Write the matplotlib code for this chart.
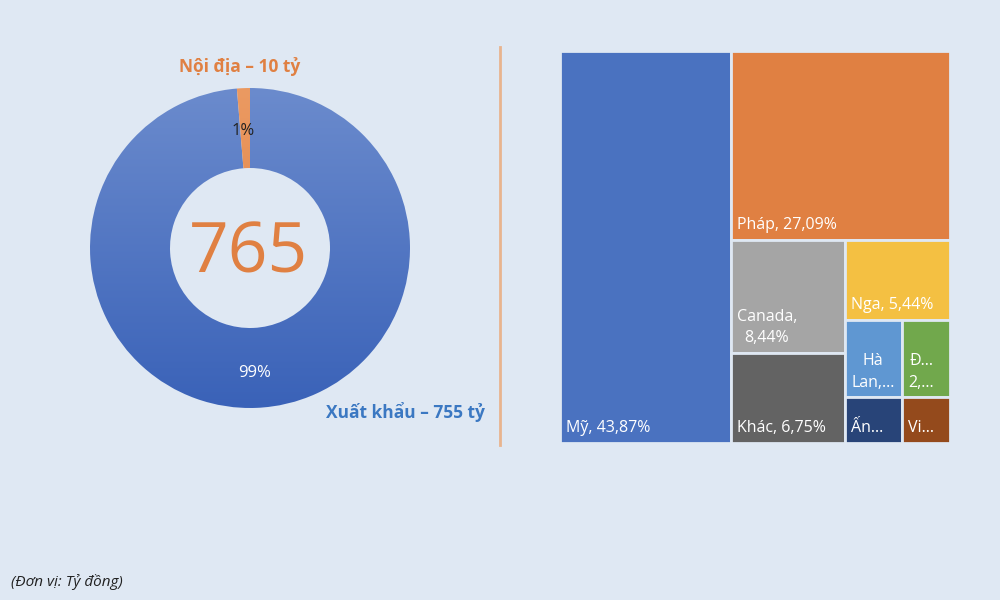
import numpy as np
import matplotlib
matplotlib.use("Agg")
import matplotlib.pyplot as plt
from matplotlib.patches import Wedge, Rectangle

plt.rcParams['font.family'] = ['Open Sans', 'DejaVu Sans']

# donut data (ty dong)
donut_labels = ['Xuất khẩu – 755 tỷ', 'Nội địa – 10 tỷ']
donut_values = [755, 10]
donut_pct = ['99%', '1%']
total_label = '765'

# treemap data (% of export value)
tm_names = ['Mỹ', 'Pháp', 'Canada', 'Khác', 'Nga', 'Hà Lan', 'Đức', 'Ấn Độ', 'Việt Nam']
tm_values = [43.87, 27.09, 8.44, 6.75, 5.44, 2.90, 2.40, 1.70, 1.41]
tm_text = ['Mỹ, 43,87%', 'Pháp, 27,09%', 'Canada,\n8,44%', 'Khác, 6,75%',
           'Nga, 5,44%', 'Hà\nLan,...', 'Đ...\n2,...', 'Ấn...', 'Vi...']
tm_colors = ['#4a72c0', '#e08042', '#a5a5a5', '#636363', '#f4c042',
             '#5f97d2', '#71a84c', '#284478', '#944a1c']
tm_rows = [1, 1, 2, 1, 2, 2]

bg = '#dfe8f3'
orange = '#e08042'

fig = plt.figure(figsize=(10, 6), dpi=100)
fig.patch.set_facecolor(bg)

# ---------------- donut ----------------
ax = fig.add_axes([0.05, (600 - 448) / 600, 0.4, 400 / 600])
ax.set_xlim(-1.25, 1.25)
ax.set_ylim(-1.25, 1.25)
ax.set_aspect('equal')
ax.axis('off')

fracs = np.array(donut_values) / sum(donut_values)
start = 90.0
inner = 0.5
grad = np.linspace(0, 1, 256).reshape(-1, 1)
blue_cmap = matplotlib.colors.LinearSegmentedColormap.from_list('b', ['#3a62b8', '#6b8bcd'])
orng_cmap = matplotlib.colors.LinearSegmentedColormap.from_list('o', ['#e0793a', '#eb9a62'])
cmaps = [blue_cmap, orng_cmap]
mids = []
for f, cm in zip(fracs, cmaps):
    end = start - f * 360
    w = Wedge((0, 0), 1, end, start, width=1 - inner, facecolor='none', edgecolor='none')
    ax.add_patch(w)
    im = ax.imshow(grad, cmap=cm, extent=[-1, 1, -1, 1], origin='lower', aspect='auto')
    im.set_clip_path(w)
    mids.append(np.deg2rad((start + end) / 2))
    start = end

r_lab = 0.75
ax.text(r_lab * np.cos(mids[0]), r_lab * np.sin(mids[0]) - 0.03, donut_pct[0],
        ha='center', va='center', color='white', fontsize=12)
ax.text(r_lab * np.cos(mids[1]) - 0.01, r_lab * np.sin(mids[1]) - 0.02, donut_pct[1],
        ha='center', va='center', color='#222222', fontsize=12)
ax.text(-0.01, -0.04, total_label, ha='center', va='center', color=orange, fontsize=50)

fig.text(0.24, 1 - 67 / 600, donut_labels[1], ha='center', va='center',
         color=orange, fontsize=12.5, fontweight='bold')
fig.text(0.405, 1 - 412 / 600, donut_labels[0], ha='center', va='center',
         color='#3b78c2', fontsize=12.5, fontweight='bold')

# separator
fig.add_artist(plt.Line2D([0.5, 0.5], [1 - 47 / 600, 1 - 445 / 600],
                          color='#e8b48e', lw=2))

fig.text(0.011, 1 - 582 / 600, '(Đơn vị: Tỷ đồng)', ha='left', va='center',
         color='#222222', fontsize=11, style='italic')


# ---------------- treemap ----------------
def layout(vals, rows, x, y, w, h):
    rects = []
    i = 0
    for k, n in enumerate(rows):
        row = vals[i:i + n]
        rest = sum(vals[i:])
        s = sum(row)
        last = k == len(rows) - 1
        if w >= h:
            # column on the left
            cw = w * s / rest
            if last and n > 1 and cw > h:
                cx = x
                for v in row:
                    rw = cw * v / s
                    rects.append((cx, y, rw, h))
                    cx += rw
            else:
                cy = y + h
                for v in row:
                    rh = h * v / s
                    cy -= rh
                    rects.append((x, cy, cw, rh))
            x += cw
            w -= cw
        else:
            # strip on top
            rh = h * s / rest
            if last and n > 1 and rh > w:
                cy = y + h
                for v in row:
                    hh = rh * v / s
                    cy -= hh
                    rects.append((x, cy, w, hh))
            else:
                cx = x
                for v in row:
                    cw = w * v / s
                    rects.append((cx, y + h - rh, cw, rh))
                    cx += cw
            h -= rh
        i += n
    return rects


tax = fig.add_axes([0.5595, (600 - 443) / 600, 0.39, 392 / 600])
tax.set_xlim(0, 100)
tax.set_ylim(0, 100)
tax.axis('off')

rects = layout(tm_values, tm_rows, 0, 0, 100, 100)
for (rx, ry, rw, rh), c, t in zip(rects, tm_colors, tm_text):
    tax.add_patch(Rectangle((rx, ry), rw, rh, facecolor=c, edgecolor=bg, lw=2))
    tax.annotate(t, (rx, ry), xytext=(4.5, 5), textcoords='offset points',
                 ha='left', va='bottom', color='white', fontsize=11.5,
                 multialignment='center', linespacing=1.45)

fig.savefig('out.png', dpi=100, facecolor=bg)
